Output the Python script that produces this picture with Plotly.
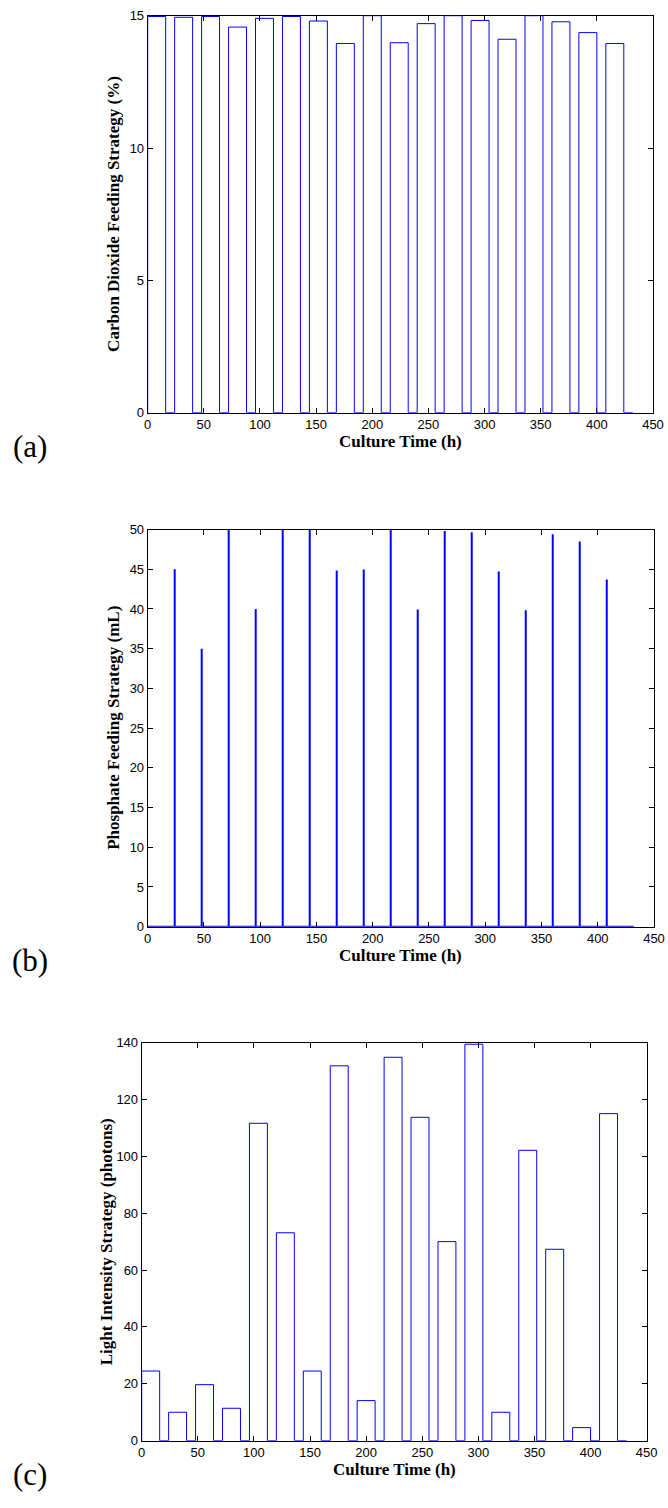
import plotly.graph_objects as go

# ---- data -------------------------------------------------------------
# CO2 feeding: on-periods (h) and the CO2 level (%) held during each one
co2_start = [0, 24, 48, 72, 96, 120, 144, 168, 192, 216, 240, 264, 288, 312, 336, 360, 384, 408]
co2_end = [16, 40, 64, 88, 112, 136, 160, 184, 208, 232, 256, 280, 304, 328, 352, 376, 400, 424]
co2_level = [14.97, 14.94, 14.97, 14.57, 14.90, 14.97, 14.80, 13.95, 15.00,
             13.98, 14.70, 15.00, 14.82, 14.11, 15.00, 14.77, 14.36, 13.95]

# Phosphate feeding: pulse times (h) and pulse volumes (mL)
phos_time = [24, 48, 72, 96, 120, 144, 168, 192, 216, 240, 264, 288, 312, 336, 360, 384, 408]
phos_volume = [45.0, 35.0, 50.0, 40.0, 50.0, 50.0, 44.83, 44.96, 50.0,
               39.92, 49.8, 49.66, 44.7, 39.83, 49.41, 48.49, 43.7]

# Light intensity: on-periods (h) and intensity (photons)
light_start = [0, 24, 48, 72, 96, 120, 144, 168, 192, 216, 240, 264, 288, 312, 336, 360, 384, 408]
light_end = [16, 40, 64, 88, 112, 136, 160, 184, 208, 232, 256, 280, 304, 328, 352, 376, 400, 424]
light_level = [24.5, 10.0, 19.7, 11.4, 111.6, 73.1, 24.5, 131.8, 14.1,
               134.8, 113.7, 70.0, 139.4, 10.0, 102.1, 67.3, 4.6, 115.0]

culture_end = 432
x_ticks = [0, 50, 100, 150, 200, 250, 300, 350, 400, 450]

# ---- page geometry (pixels) ------------------------------------------
W, H = 668, 1508
# left, right, top, bottom of each axes box
boxes = [(147.7, 653.0, 15.7, 412.7),
         (147.7, 654.0, 529.5, 926.7),
         (141.7, 646.7, 1042.5, 1440.7)]


def px(x):
    return x / W


def py(y):
    return 1 - y / H


def step_profile(starts, ends, levels, stop):
    xs, ys = [0], [0]
    for s, e, v in zip(starts, ends, levels):
        xs += [s, s, e, e]
        ys += [0, v, v, 0]
    xs.append(stop)
    ys.append(0)
    return xs, ys


def pulse_profile(times, levels, stop):
    xs, ys = [0], [0]
    for t, v in zip(times, levels):
        xs += [t, t, t]
        ys += [0, v, 0]
    xs.append(stop)
    ys.append(0)
    return xs, ys


BLUE = "#0000ff"
fig = go.Figure()

xa, ya = step_profile(co2_start, co2_end, co2_level, culture_end)
fig.add_trace(go.Scatter(x=xa, y=ya, mode="lines", line=dict(color=BLUE, width=1),
                         cliponaxis=False, xaxis="x", yaxis="y", showlegend=False))

xb, yb = pulse_profile(phos_time, phos_volume, culture_end)
fig.add_trace(go.Scatter(x=xb, y=yb, mode="lines", line=dict(color=BLUE, width=2),
                         cliponaxis=False, xaxis="x2", yaxis="y2", showlegend=False))

xc, yc = step_profile(light_start, light_end, light_level, culture_end)
fig.add_trace(go.Scatter(x=xc, y=yc, mode="lines", line=dict(color=BLUE, width=1),
                         cliponaxis=False, xaxis="x3", yaxis="y3", showlegend=False))

tick_font = dict(family="Liberation Sans, Arial, sans-serif", size=13, color="black")
title_font = dict(family="Liberation Serif, Times New Roman, serif", size=17, color="black")
tag_font = dict(family="Liberation Serif, serif", size=31, color="black")

axis_common = dict(ticks="inside", ticklen=5, tickwidth=1, tickcolor="black",
                   showline=True, linecolor="black", linewidth=1, mirror="ticks",
                   showgrid=False, zeroline=False, layer="below traces",
                   tickfont=tick_font, automargin=False)

y_specs = [
    ([0, 15], [0, 5, 10, 15], "Carbon Dioxide Feeding Strategy (%)"),
    ([0, 50], [0, 5, 10, 15, 20, 25, 30, 35, 40, 45, 50], "Phosphate Feeding Strategy (mL)"),
    ([0, 140], [0, 20, 40, 60, 80, 100, 120, 140], "Light Intensity Strategy (photons)"),
]
panel_tags = ["(a)", "(b)", "(c)"]

layout = dict(width=W, height=H, margin=dict(l=0, r=0, t=0, b=0),
              paper_bgcolor="white", plot_bgcolor="white", showlegend=False)
annotations = []
for i, ((l, r, t, b), (yr, yt, ytitle), tag) in enumerate(zip(boxes, y_specs, panel_tags)):
    sfx = "" if i == 0 else str(i + 1)
    layout["xaxis" + sfx] = dict(axis_common, domain=[px(l), px(r)], range=[0, 450],
                                 tickvals=x_ticks, anchor="y" + sfx)
    layout["yaxis" + sfx] = dict(axis_common, domain=[py(b), py(t)], range=yr,
                                 tickvals=yt, anchor="x" + sfx)
    annotations.append(dict(text="<b>Culture Time (h)</b>", x=px((l + r) / 2), y=py(b + 29),
                            xref="paper", yref="paper", showarrow=False, font=title_font,
                            xanchor="center", yanchor="middle"))
    annotations.append(dict(text="<b>" + ytitle + "</b>", x=px(l - 35), y=py((t + b) / 2),
                            xref="paper", yref="paper", showarrow=False, font=title_font,
                            textangle=-90, xanchor="center", yanchor="middle"))
    annotations.append(dict(text=tag, x=px(30), y=py(b + 34), xref="paper", yref="paper",
                            showarrow=False, xanchor="center", yanchor="middle",
                            font=tag_font))
layout["annotations"] = annotations
fig.update_layout(**layout)

fig.write_html("out.html")
